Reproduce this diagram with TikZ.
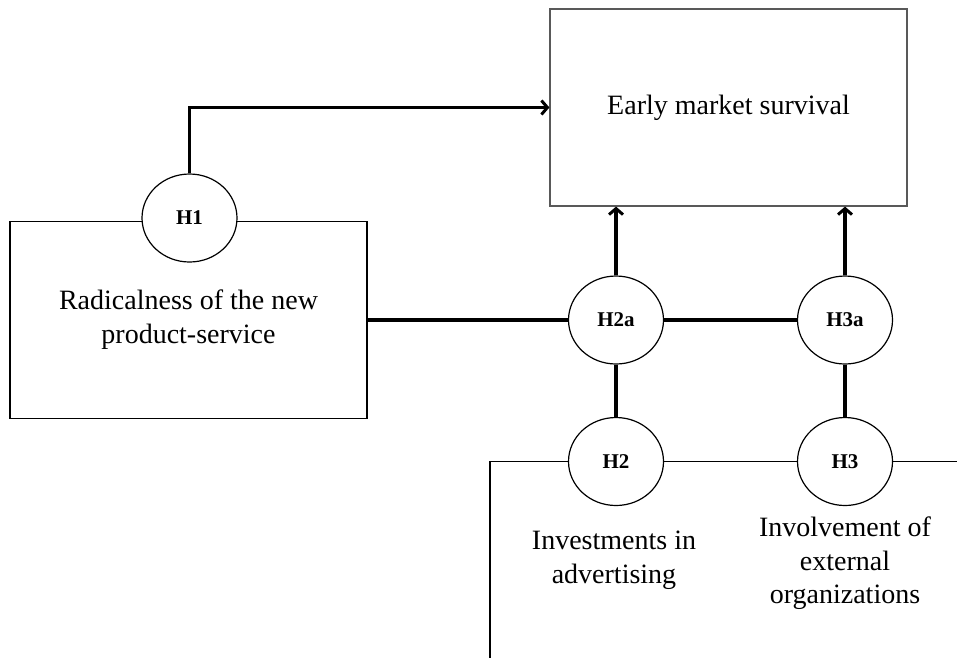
\documentclass[tikz,border=0pt]{standalone}
\usepackage{fontspec}
\setmainfont{Liberation Serif}
\usetikzlibrary{shapes.geometric,arrows.meta}

\begin{document}
\begin{tikzpicture}[x=1pt,y=-1pt,
    box/.style={draw,line width=1.2pt,minimum width=357pt,minimum height=197pt,
      align=center,font=\fontsize{28}{34}\selectfont},
    hyp/.style={draw,ellipse,fill=white,line width=1.2pt,minimum width=95pt,
      minimum height=88pt,inner sep=0pt,font=\fontsize{21}{24}\selectfont\bfseries},
    txt/.style={align=center,font=\fontsize{28}{33.5}\selectfont},
    strong/.style={line width=3.5pt},
    thinline/.style={line width=1.2pt},
    tip/.style={-{Straight Barb[length=6pt,width=14pt,line width=3pt]}}]
   \useasboundingbox (0,0) rectangle (957,657);

   \node[box,draw=black!65] (early) at (728.5,107.5) {Early market survival};
   \node[box] (rad) at (188.5,320) {Radicalness of the new\\product-service};

   \node[hyp] (H1) at (189.5,218) {H1};
   \node[hyp] (H2a) at (616,320) {H2a};
   \node[hyp] (H3a) at (845,320) {H3a};
   \node[hyp] (H2) at (616,461.5) {H2};
   \node[hyp] (H3) at (845,461.5) {H3};

   \node[txt] (inv) at (614,560) {Investments in\\advertising};
   \node[txt] (ext) at (845,563.5) {Involvement of\\external\\organizations};

   \coordinate (invBL) at (490,660);
   \coordinate (invTL) at (490,461.5);
   \coordinate (invTR) at (960,461.5);

   \draw[thinline] (invBL) -- (invTL) -- (H2);
   \draw[thinline] (H2) -- (H3);
   \draw[thinline] (H3) -- (invTR);

   \draw[strong,tip] (H1) |- (early.west);
   \draw[strong,tip] (H2a) -- (H2a |- early.south);
   \draw[strong,tip] (H3a) -- (H3a |- early.south);
   \draw[strong] (rad.east) -- (H2a);
   \draw[strong] (H2a) -- (H3a);
   \draw[strong] (H2a) -- (H2);
   \draw[strong] (H3a) -- (H3);
\end{tikzpicture}
\end{document}
